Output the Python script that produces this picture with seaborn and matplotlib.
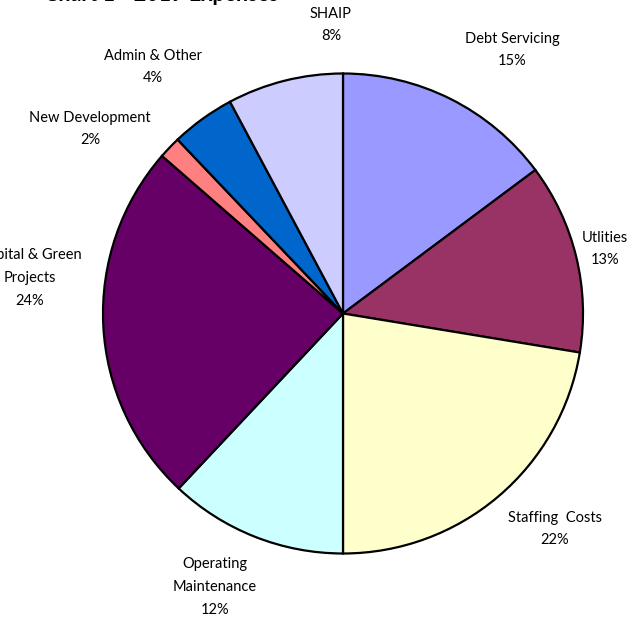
import matplotlib
matplotlib.use("Agg")
import matplotlib.pyplot as plt
import seaborn as sns

sns.set_theme(style="white")
plt.rcParams['font.family'] = ['Lato', 'DejaVu Sans']

categories = ["Debt Servicing", "Utlities", "Staffing  Costs", "Operating\nMaintenance",
              "Capital & Green\nProjects", "New Development", "Admin & Other", "SHAIP"]
values = [14.8, 12.8, 22.4, 12.0, 24.4, 1.5, 4.3, 7.8]
colors = ["#9999FF", "#993366", "#FFFFCC", "#CCFFFF", "#660066", "#FF8080", "#0066CC", "#CCCCFF"]
title = "Chart 1 - 2019 Expenses"

W, H = 638, 619
fig = plt.figure(figsize=(W / 100, H / 100), dpi=100)
ax = fig.add_axes([0, 0, 1, 1])

cx, cy, r = 343, H - 313.5, 240
ax.pie(values, colors=colors, startangle=90, counterclock=False, center=(cx, cy), radius=r,
       wedgeprops=dict(edgecolor="black", linewidth=1.6), frame=True)
ax.set_xlim(0, W)
ax.set_ylim(0, H)
ax.set_aspect("equal")
ax.axis("off")

total = sum(values)
# label anchor positions (pixel coords from top-left, centre of label block)
label_pos = [(512, 50), (605, 249), (555, 529), (215, 587), (30, 278), (90, 129), (153, 67), (331, 25)]
for name, v, (lx, ly) in zip(categories, values, label_pos):
    txt = f"{name}\n{round(v / total * 100)}%"
    ax.text(lx, H - ly, txt, ha="center", va="center", fontsize=10.5, color="black",
            linespacing=1.8)

ax.text(44, H - 1, title, ha="left", va="baseline", fontsize=15.5, fontweight="bold", color="black")

fig.savefig("out.png", dpi=100, facecolor="white")
